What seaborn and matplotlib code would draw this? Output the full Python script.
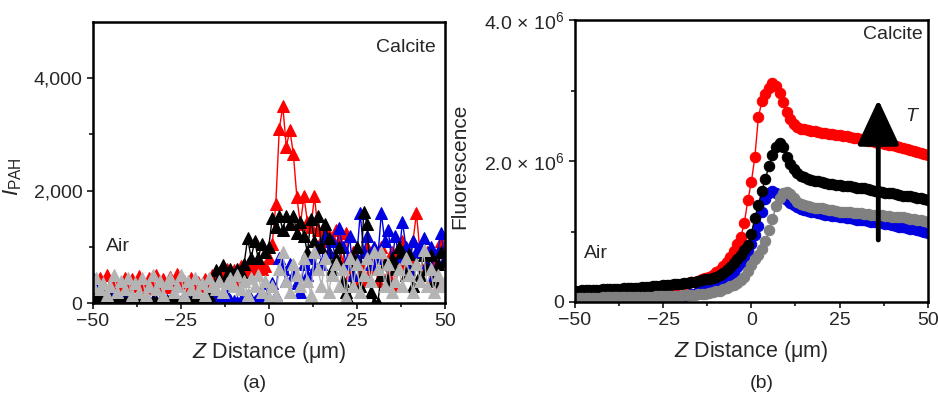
import numpy as np
import pandas as pd
import matplotlib
matplotlib.use("Agg")
import matplotlib.pyplot as plt
from matplotlib.ticker import MultipleLocator, FixedLocator
import seaborn as sns

# --- data ---
z = list(range(-50, 51))

# (a) I_PAH, triangles
pah_red = [350, 250, 450, 300, 500, 280, 400, 350, 300, 450,
           280, 420, 300, 480, 350, 260, 450, 320, 500, 300,
           420, 280, 460, 350, 520, 300, 400, 280, 450, 320,
           380, 300, 420, 350, 500, 400, 550, 450, 600, 500,
           590, 400, 650, 550, 700, 600, 700, 640, 600, 650,
           800, 1050, 1760, 3100, 3500, 2780, 3080, 2650, 1880, 1400,
           1900, 1450, 1350, 1900, 1300, 1100, 1350, 900, 1150, 1300,
           1100, 700, 1250, 500, 900, 300, 700, 400, 1000, 600,
           800, 400, 1000, 700, 500, 900, 300, 700, 1100, 500,
           800, 1100, 1600, 900, 600, 900, 400, 700, 300, 1100, 1000]
pah_blue = [450, 300, 150, 250, 100, 200, 50, 150, 80, 120,
            60, 100, 40, 80, 30, 60, 20, 50, 30, 40,
            20, 50, 30, 150, 20, 40, 30, 60, 20, 40,
            30, 20, 50, 100, 150, 200, 120, 80, 150, 60,
            40, 20, 50, 30, 150, 80, 40, 100, 20, 350,
            50, 350, 150, 800, 600, 400, 700, 500, 350, 200,
            700, 500, 800, 600, 1000, 700, 1200, 900, 1100, 800,
            1330, 1000, 700, 1200, 500, 800, 1600, 900, 1200, 700,
            1000, 800, 1600, 1100, 1300, 700, 1200, 800, 1450, 1000,
            600, 1100, 900, 1000, 1150, 700, 1000, 500, 900, 1250, 800]
pah_black = [150, 50, 100, 250, 30, 80, 20, 60, 30, 40,
             20, 30, 20, 40, 20, 30, 20, 30, 20, 30,
             20, 30, 50, 20, 30, 20, 40, 20, 30, 20,
             30, 50, 100, 150, 250, 580, 450, 670, 500, 600,
             500, 600, 550, 700, 1150, 800, 1100, 800, 1050, 900,
             1000, 1520, 1350, 1550, 1300, 1550, 1400, 1550, 1250, 1450,
             1200, 900, 1500, 1100, 1550, 1000, 1400, 1150, 600, 800,
             1000, 400, 200, 0, 800, 1000, 300, 1620, 1400, 200,
             0, 0, 500, 700, 400, 800, 600, 1000, 900, 500,
             880, 300, 700, 500, 850, 600, 850, 400, 700, 900, 750]
pah_gray = [300, 450, 250, 350, 150, 300, 500, 200, 400, 250,
            450, 150, 350, 200, 450, 150, 300, 500, 250, 400,
            150, 350, 450, 200, 300, 500, 150, 400, 250, 450,
            200, 350, 150, 450, 300, 250, 400, 200, 350, 450,
            300, 500, 250, 400, 150, 450, 300, 500, 200, 400,
            100, 300, 150, 600, 900, 400, 200, 700, 500, 300,
            800, 400, 150, 900, 600, 300, 800, 200, 500, 700,
            300, 600, 100, 800, 300, 700, 200, 500, 800, 400,
            900, 600, 900, 300, 700, 200, 400, 600, 300, 800,
            500, 200, 700, 400, 950, 300, 600, 200, 500, 300, 400]

# (b) fluorescence, x 1e6, circles
fl_red = [0.14, 0.14, 0.145, 0.15, 0.15, 0.155, 0.155, 0.16, 0.16, 0.165,
          0.165, 0.17, 0.17, 0.175, 0.175, 0.18, 0.18, 0.185, 0.19, 0.19,
          0.195, 0.20, 0.205, 0.21, 0.215, 0.22, 0.225, 0.23, 0.24, 0.245,
          0.25, 0.26, 0.27, 0.28, 0.29, 0.30, 0.32, 0.34, 0.36, 0.39,
          0.42, 0.46, 0.51, 0.57, 0.64, 0.72, 0.82, 0.92, 1.12, 1.44,
          1.70, 2.06, 2.62, 2.85, 2.95, 3.03, 3.10, 3.06, 2.96, 2.84,
          2.70, 2.60, 2.52, 2.48, 2.46, 2.45, 2.44, 2.43, 2.42, 2.41,
          2.40, 2.40, 2.39, 2.38, 2.37, 2.37, 2.36, 2.35, 2.34, 2.33,
          2.32, 2.31, 2.30, 2.29, 2.28, 2.27, 2.26, 2.25, 2.24, 2.23,
          2.22, 2.21, 2.20, 2.19, 2.17, 2.16, 2.14, 2.13, 2.12, 2.10, 2.09]
fl_black = [0.16, 0.16, 0.165, 0.165, 0.17, 0.17, 0.175, 0.175, 0.18, 0.18,
            0.185, 0.185, 0.19, 0.19, 0.195, 0.195, 0.20, 0.20, 0.205, 0.21,
            0.21, 0.215, 0.22, 0.225, 0.23, 0.235, 0.24, 0.245, 0.25, 0.255,
            0.26, 0.27, 0.275, 0.28, 0.29, 0.30, 0.31, 0.32, 0.33, 0.345,
            0.36, 0.38, 0.41, 0.45, 0.50, 0.55, 0.61, 0.67, 0.74, 0.81,
            0.97, 1.19, 1.38, 1.58, 1.75, 1.93, 2.08, 2.20, 2.25, 2.20,
            2.06, 1.96, 1.88, 1.83, 1.79, 1.77, 1.75, 1.73, 1.72, 1.71,
            1.70, 1.69, 1.68, 1.67, 1.66, 1.66, 1.65, 1.64, 1.64, 1.63,
            1.62, 1.61, 1.61, 1.60, 1.59, 1.58, 1.57, 1.56, 1.55, 1.55,
            1.54, 1.53, 1.52, 1.51, 1.50, 1.50, 1.49, 1.48, 1.47, 1.46, 1.45]
fl_blue = [0.03, 0.03, 0.03, 0.03, 0.03, 0.03, 0.03, 0.03, 0.03, 0.03,
           0.03, 0.03, 0.035, 0.035, 0.035, 0.035, 0.04, 0.04, 0.04, 0.04,
           0.045, 0.045, 0.05, 0.05, 0.055, 0.06, 0.06, 0.065, 0.07, 0.075,
           0.08, 0.09, 0.10, 0.11, 0.12, 0.14, 0.15, 0.17, 0.19, 0.21,
           0.24, 0.27, 0.30, 0.34, 0.38, 0.43, 0.49, 0.56, 0.64, 0.72,
           0.82, 0.95, 1.08, 1.28, 1.46, 1.55, 1.57, 1.55, 1.50, 1.47,
           1.44, 1.41, 1.38, 1.35, 1.32, 1.30, 1.29, 1.28, 1.27, 1.26,
           1.25, 1.24, 1.23, 1.22, 1.22, 1.21, 1.20, 1.19, 1.19, 1.18,
           1.17, 1.16, 1.16, 1.15, 1.14, 1.13, 1.13, 1.12, 1.11, 1.10,
           1.09, 1.08, 1.07, 1.06, 1.05, 1.04, 1.03, 1.02, 1.01, 0.99, 0.98]
fl_gray = [0.06, 0.06, 0.06, 0.06, 0.06, 0.062, 0.062, 0.062, 0.064, 0.064,
           0.064, 0.066, 0.066, 0.068, 0.068, 0.07, 0.07, 0.072, 0.072, 0.074,
           0.075, 0.076, 0.078, 0.08, 0.08, 0.082, 0.084, 0.086, 0.088, 0.09,
           0.092, 0.095, 0.10, 0.10, 0.105, 0.11, 0.115, 0.12, 0.125, 0.135,
           0.15, 0.16, 0.18, 0.20, 0.22, 0.24, 0.27, 0.31, 0.36, 0.44,
           0.53, 0.61, 0.67, 0.75, 0.86, 1.02, 1.18, 1.36, 1.48, 1.54,
           1.56, 1.53, 1.47, 1.42, 1.39, 1.37, 1.36, 1.35, 1.34, 1.33,
           1.33, 1.32, 1.31, 1.30, 1.29, 1.28, 1.28, 1.27, 1.27, 1.26,
           1.26, 1.26, 1.25, 1.25, 1.24, 1.24, 1.23, 1.23, 1.22, 1.22,
           1.21, 1.21, 1.20, 1.20, 1.19, 1.18, 1.18, 1.17, 1.16, 1.15, 1.14]

# --- style ---
sns.set_style("ticks")
plt.rcParams['font.family'] = ['Liberation Sans', 'DejaVu Sans']
plt.rcParams['mathtext.fontset'] = 'custom'
plt.rcParams['mathtext.rm'] = 'Liberation Sans'
plt.rcParams['mathtext.it'] = 'Liberation Sans:italic'
plt.rcParams['axes.unicode_minus'] = True

fig = plt.figure(figsize=(9.38, 4), dpi=100)
ax1 = fig.add_axes([0.099, 0.2425, 0.375, 0.7025])
ax2 = fig.add_axes([0.613, 0.245, 0.376, 0.705])

# (a)
for vals, col in [(pah_red, 'red'), (pah_blue, '#0000e0'),
                  (pah_black, 'black'), (pah_gray, '#b4b4b4')]:
    sns.lineplot(x=z, y=vals, ax=ax1, color=col, marker='^', markersize=8.5,
                 markeredgecolor=col, linewidth=1, estimator=None)

ax1.set_xlim(-50, 50)
ax1.set_ylim(0, 5000)
ax1.set_yticks([0, 2000, 4000])
ax1.set_yticklabels(['0', '2,000', '4,000'])
ax1.yaxis.set_minor_locator(FixedLocator([1000, 3000]))
ax1.set_ylabel(r'$I_{\mathrm{PAH}}$', fontsize=16)
ax1.yaxis.set_label_coords(-0.195, 0.45)
ax1.text(39, 4540, 'Calcite', fontsize=14, ha='center', va='center')
ax1.text(-43, 1010, 'Air', fontsize=14, ha='center', va='center')

# (b)
for vals, col in [(fl_red, 'red'), (fl_blue, '#0000e0'),
                  (fl_black, 'black'), (fl_gray, '#808080')]:
    sns.lineplot(x=z, y=np.array(vals) * 1e6, ax=ax2, color=col, marker='o',
                 markersize=7.5, markeredgecolor=col, linewidth=1, estimator=None)

ax2.set_xlim(-50, 50)
ax2.set_ylim(0, 4e6)
ax2.set_yticks([0, 2e6, 4e6])
ax2.set_yticklabels(['0', '2.0 \u00d7 10$^6$', '4.0 \u00d7 10$^6$'])
ax2.yaxis.set_minor_locator(FixedLocator([1e6, 3e6]))
ax2.set_ylabel('Fluorescence', fontsize=15)
ax2.yaxis.set_label_coords(-0.3, 0.48)
ax2.annotate('', xy=(36, 2.87e6), xytext=(36, 0.88e6),
             arrowprops=dict(arrowstyle='-|>,head_width=1.3,head_length=2.8',
                             color='black', lw=3.5, shrinkA=0, shrinkB=0))
ax2.text(45.4, 2.63e6, 'T', fontsize=14, style='italic', ha='center', va='center')
ax2.text(40, 3.8e6, 'Calcite', fontsize=14, ha='center', va='center')
ax2.text(-44, 0.69e6, 'Air', fontsize=14, ha='center', va='center')

for ax in (ax1, ax2):
    ax.set_xticks([-50, -25, 0, 25, 50])
    ax.xaxis.set_minor_locator(MultipleLocator(12.5))
    ax.tick_params(axis='both', which='major', labelsize=14, length=4, width=1.3, direction='out')
    ax.tick_params(axis='both', which='minor', length=3, width=1.3, direction='out')
    ax.set_xlabel(r'$Z$ Distance ($\mathrm{\mu}$m)', fontsize=15.5)
    ax.xaxis.set_label_coords(0.5, -0.13)
    for sp in ax.spines.values():
        sp.set_visible(True)
        sp.set_linewidth(1.8)
        sp.set_color('black')

fig.text(0.272, 0.0425, '(a)', fontsize=14, ha='center', va='center')
fig.text(0.812, 0.0425, '(b)', fontsize=14, ha='center', va='center')

fig.savefig('out.png', dpi=100)
